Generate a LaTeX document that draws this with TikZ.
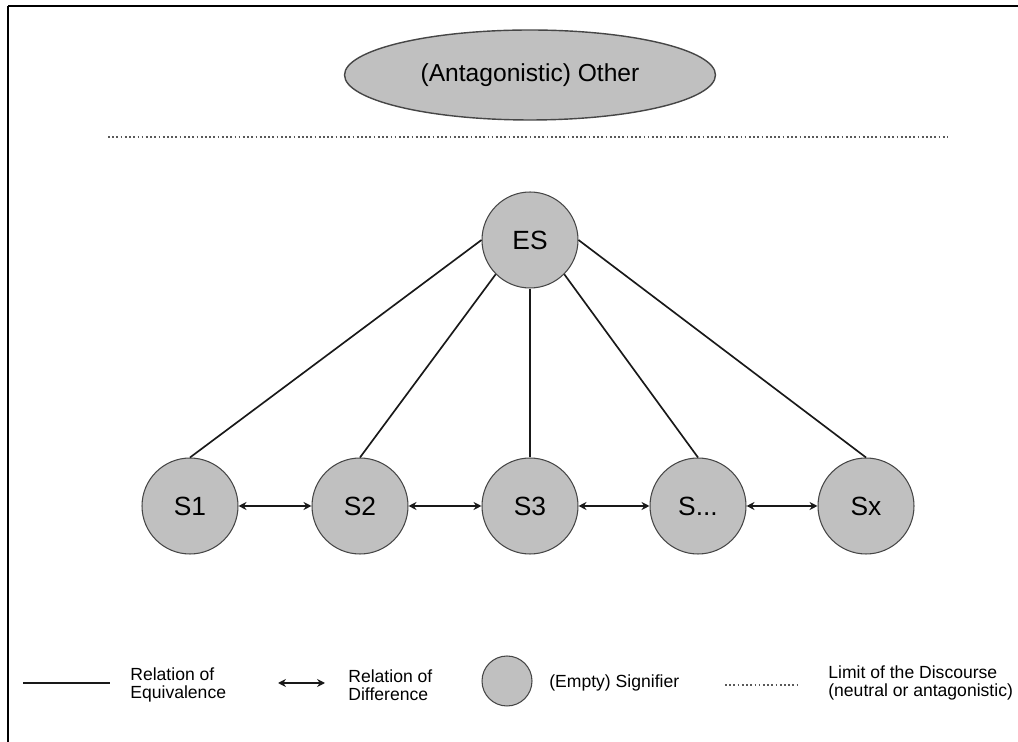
\documentclass[tikz,border=0pt]{standalone}
\usepackage{fontspec}
\setmainfont{Liberation Sans}
\usepackage{tikz}
\usetikzlibrary{arrows.meta, shapes.geometric}
\definecolor{sig}{RGB}{192, 192, 192}
\definecolor{rim}{RGB}{70, 70, 70}
\tikzset{
  signifier/.style={circle, draw=rim, line width=0.6pt, fill=sig,
                    minimum size=1.92cm, inner sep=0pt,
                    font=\fontsize{15}{18}\selectfont},
  smallsig/.style={circle, draw=rim, line width=0.6pt, fill=sig,
                   minimum size=1.0cm, inner sep=0pt},
  equiv/.style={draw=black!90, line width=0.95pt},
  diff/.style={draw=black!90, line width=0.95pt,
               {Stealth[length=4.5pt, width=4.5pt]}-{Stealth[length=4.5pt, width=4.5pt]}},
  limit/.style={draw=black!65, line width=1pt, dash pattern=on 1pt off 1.4pt},
  legendtext/.style={anchor=west, align=left, inner sep=0pt,
                     font=\fontsize{10}{10.4}\selectfont}
}

\begin{document}
\begin{tikzpicture}[x=0.02cm, y=-0.02cm]
  % Size
  \useasboundingbox (0, 0) rectangle (1018, 742);

  % Frame
  \draw[black, line width=1.4pt] (8, 6) -- (1018, 6);
  \draw[black, line width=0.9pt] (8, 6) -- (8, 742);

  % Outside of the discourse
  \node[ellipse, draw=rim, line width=0.8pt, fill=sig, minimum width=7.42cm,
        minimum height=1.8cm, inner sep=0pt,
        font=\fontsize{14}{17}\selectfont] (other) at (530, 75) {(Antagonistic) Other};

  \coordinate (lima) at (108, 137);
  \coordinate (limb) at (948, 137);
  \draw[limit] (lima) -- (limb);

  % Signifiers
  \node[signifier] (ES) at (530, 240) {ES};

  \node[signifier] (S1) at (190, 506) {S1};
  \node[signifier] (S2) at (360, 506) {S2};
  \node[signifier] (S3) at (530, 506) {S3};
  \node[signifier] (Sd) at (698, 506) {S...};
  \node[signifier] (Sx) at (866, 506) {Sx};

  \draw[equiv] (ES.west) -- (S1.north);
  \draw[equiv] (ES.south west) -- (S2.north);
  \draw[equiv] (ES.south) -- (S3.north);
  \draw[equiv] (ES.south east) -- (Sd.north);
  \draw[equiv] (ES.east) -- (Sx.north);

  \draw[diff] (S1) -- (S2);
  \draw[diff] (S2) -- (S3);
  \draw[diff] (S3) -- (Sd);
  \draw[diff] (Sd) -- (Sx);

  % Legend
  \coordinate (eqa) at (23, 683);
  \coordinate (eqb) at (110, 683);
  \draw[equiv] (eqa) -- (eqb);
  \node[legendtext] (eqtext) at (130, 685) {Relation of\\Equivalence};

  \coordinate (dfa) at (278, 683);
  \coordinate (dfb) at (325, 683);
  \draw[diff] (dfa) -- (dfb);
  \node[legendtext] (dftext) at (348, 685) {Relation of\\Difference};

  \node[smallsig] (sigkey) at (507, 681) {};
  \node[legendtext] (sigtext) at (549, 683) {(Empty) Signifier};

  \coordinate (lka) at (725, 685);
  \coordinate (lkb) at (798, 685);
  \draw[limit] (lka) -- (lkb);
  \node[legendtext] (lktext) at (828, 683) {Limit of the Discourse\\(neutral or antagonistic)};
\end{tikzpicture}
\end{document}
